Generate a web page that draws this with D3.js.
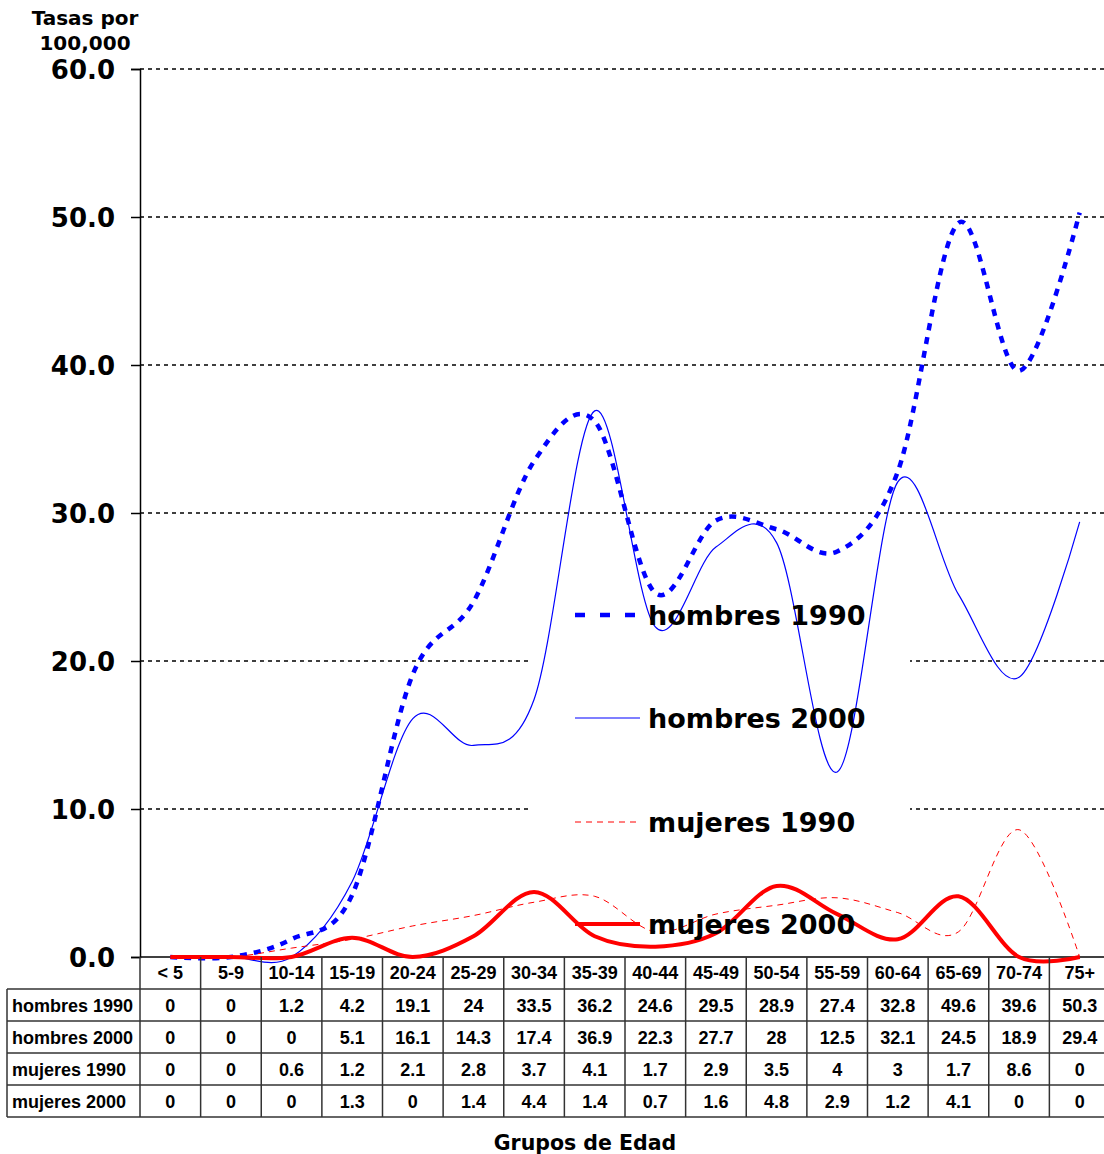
<!DOCTYPE html>
<html>
<head>
<meta charset="utf-8">
<script src="https://d3js.org/d3.v7.min.js"></script>
<style>
  html, body { margin: 0; padding: 0; background: #fff; }
  svg { display: block; }
</style>
</head>
<body>
<script>
const categories = ["< 5","5-9","10-14","15-19","20-24","25-29","30-34","35-39","40-44","45-49","50-54","55-59","60-64","65-69","70-74","75+"];
const hombres1990 = [0,0,1.2,4.2,19.1,24,33.5,36.2,24.6,29.5,28.9,27.4,32.8,49.6,39.6,50.3];
const hombres2000 = [0,0,0,5.1,16.1,14.3,17.4,36.9,22.3,27.7,28,12.5,32.1,24.5,18.9,29.4];
const mujeres1990 = [0,0,0.6,1.2,2.1,2.8,3.7,4.1,1.7,2.9,3.5,4,3,1.7,8.6,0];
const mujeres2000 = [0,0,0,1.3,0,1.4,4.4,1.4,0.7,1.6,4.8,2.9,1.2,4.1,0,0];
const yTicks = [0,10,20,30,40,50,60];

const series = [
  {name:"hombres 1990", values:hombres1990, color:"#0000ff", width:4.5, dash:"7,7", legendDash:"10,15"},
  {name:"hombres 2000", values:hombres2000, color:"#0000ff", width:1.2, dash:null, legendDash:null},
  {name:"mujeres 1990", values:mujeres1990, color:"#ff0000", width:1, dash:"6,5", legendDash:"6,5"},
  {name:"mujeres 2000", values:mujeres2000, color:"#ff0000", width:4, dash:null, legendDash:null}
];

const W = 1104, H = 1154;
const svg = d3.select("body").append("svg").attr("width", W).attr("height", H);

const pLeft = 140, pRight = 1110, pTop = 69, pBottom = 957;
const x = d3.scaleBand().domain(categories).range([pLeft, pRight]);
const y = d3.scaleLinear().domain([0, 60]).range([pBottom, pTop]);

const vFont = "'DejaVu Sans', Verdana, sans-serif";
const aFont = "'Liberation Sans', Arial, sans-serif";

// gridlines
svg.append("g").selectAll("line").data(yTicks.filter(d => d > 0)).join("line")
  .attr("x1", pLeft).attr("x2", W)
  .attr("y1", d => y(d)).attr("y2", d => y(d))
  .attr("stroke", "#000").attr("stroke-width", 1.5).attr("stroke-dasharray", "4,4");

// legend background (white box covering gridlines)
svg.append("rect").attr("x", 530).attr("y", 575).attr("width", 380).attr("height", 375).attr("fill", "#fff");

// y axis
const yAxis = d3.axisLeft(y).tickValues(yTicks).tickSize(9).tickPadding(16).tickFormat(d3.format(".1f"));
const ya = svg.append("g").attr("transform", `translate(${pLeft},0)`).call(yAxis);
ya.select(".domain").attr("stroke", "#000").attr("stroke-width", 1.5);
ya.selectAll(".tick line").attr("stroke", "#000").attr("stroke-width", 1.5);
ya.selectAll(".tick text").attr("font-family", vFont).attr("font-weight", "bold").attr("font-size", 26).attr("fill", "#000").attr("dy", "0.36em");

// baseline axis
svg.append("line").attr("x1", pLeft).attr("x2", W).attr("y1", pBottom).attr("y2", pBottom).attr("stroke", "#000").attr("stroke-width", 1.5);

// title
svg.append("text").attr("x", 85).attr("y", 25).attr("text-anchor", "middle")
  .attr("font-family", vFont).attr("font-weight", "bold").attr("font-size", 20).text("Tasas por");
svg.append("text").attr("x", 85).attr("y", 50).attr("text-anchor", "middle")
  .attr("font-family", vFont).attr("font-weight", "bold").attr("font-size", 20).text("100,000");

// lines
const line = d3.line().x((d, i) => x(categories[i]) + x.bandwidth() / 2).y(d => y(d)).curve(d3.curveCatmullRom.alpha(0));
series.forEach(s => {
  svg.append("path").datum(s.values).attr("d", line)
    .attr("fill", "none").attr("stroke", s.color).attr("stroke-width", s.width)
    .attr("stroke-dasharray", s.dash).attr("stroke-linejoin", "round");
});

// legend
const legY = [615, 718, 822, 924];
series.forEach((s, i) => {
  svg.append("line").attr("x1", 575).attr("x2", 640).attr("y1", legY[i]).attr("y2", legY[i])
    .attr("stroke", s.color).attr("stroke-width", s.width).attr("stroke-dasharray", s.legendDash);
  svg.append("text").attr("x", 648).attr("y", legY[i] + 10)
    .attr("font-family", vFont).attr("font-weight", "bold").attr("font-size", 27).attr("fill", "#000").text(s.name);
});

// table
const rowTop = [957, 989, 1021, 1053, 1085, 1117];
const tbl = svg.append("g");
categories.forEach((c, i) => {
  tbl.append("text").attr("x", x(c) + x.bandwidth() / 2).attr("y", (rowTop[0] + rowTop[1]) / 2 + 6)
    .attr("text-anchor", "middle").attr("font-family", aFont).attr("font-weight", "bold").attr("font-size", 18).text(c);
});
series.forEach((s, r) => {
  const yc = (rowTop[r + 1] + rowTop[r + 2]) / 2 + 6.5;
  tbl.append("text").attr("x", 12).attr("y", yc).attr("font-family", aFont).attr("font-weight", "bold").attr("font-size", 18).text(s.name);
  s.values.forEach((v, i) => {
    tbl.append("text").attr("x", x(categories[i]) + x.bandwidth() / 2).attr("y", yc)
      .attr("text-anchor", "middle").attr("font-family", aFont).attr("font-weight", "bold").attr("font-size", 18).text(String(v));
  });
});
const tStroke = "#333";
categories.forEach((c, i) => {
  tbl.append("line").attr("x1", x(c)).attr("x2", x(c)).attr("y1", rowTop[0]).attr("y2", rowTop[5]).attr("stroke", tStroke).attr("stroke-width", 1.5);
});
tbl.append("line").attr("x1", pRight).attr("x2", pRight).attr("y1", rowTop[0]).attr("y2", rowTop[5]).attr("stroke", tStroke).attr("stroke-width", 1.5);
tbl.append("line").attr("x1", 7).attr("x2", 7).attr("y1", rowTop[1]).attr("y2", rowTop[5]).attr("stroke", tStroke).attr("stroke-width", 1.5);
for (let r = 1; r <= 5; r++) {
  tbl.append("line").attr("x1", 7).attr("x2", pRight).attr("y1", rowTop[r]).attr("y2", rowTop[r]).attr("stroke", tStroke).attr("stroke-width", 1.5);
}

// x axis title
svg.append("text").attr("x", 585).attr("y", 1150).attr("text-anchor", "middle")
  .attr("font-family", vFont).attr("font-weight", "bold").attr("font-size", 20.5).text("Grupos de Edad");
</script>
</body>
</html>
